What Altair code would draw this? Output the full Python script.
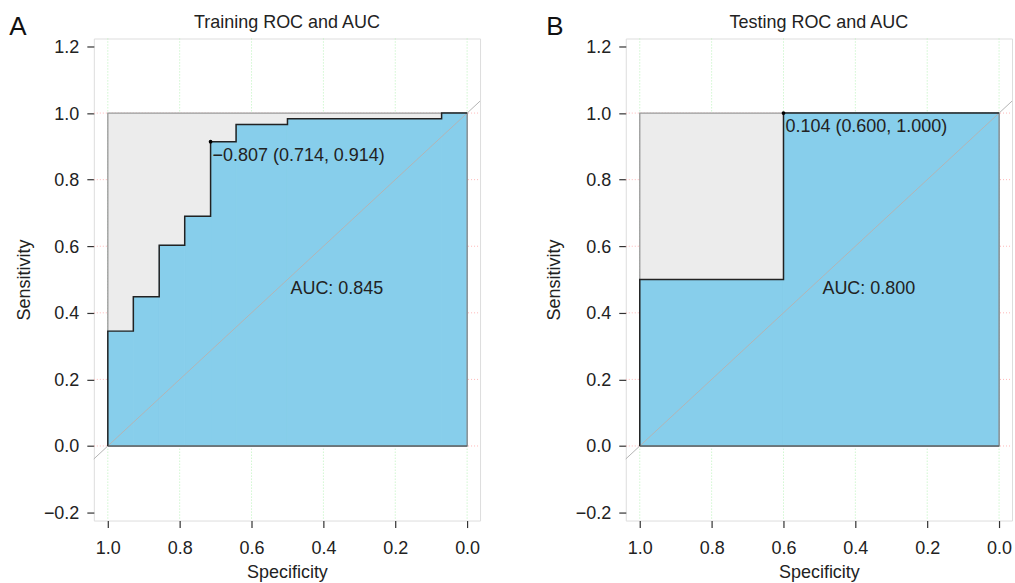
import altair as alt
import pandas as pd

# ---- data ----
train_spec = [1.000, 1.000, 0.929, 0.929, 0.857, 0.857, 0.786, 0.786, 0.714, 0.714,
              0.643, 0.643, 0.500, 0.500, 0.071, 0.071, 0.000]
train_sens = [0.000, 0.345, 0.345, 0.448, 0.448, 0.603, 0.603, 0.690, 0.690, 0.914,
              0.914, 0.966, 0.966, 0.983, 0.983, 1.000, 1.000]
test_spec = [1.000, 1.000, 0.600, 0.600, 0.000]
test_sens = [0.000, 0.500, 0.500, 1.000, 1.000]

train_best = {"spec": 0.714, "sens": 0.914, "label": "\u22120.807 (0.714, 0.914)"}
test_best = {"spec": 0.600, "sens": 1.000, "label": "0.104 (0.600, 1.000)"}
train_auc = "AUC: 0.845"
test_auc = "AUC: 0.800"
titles = ["Training ROC and AUC", "Testing ROC and AUC"]
letters = ["A", "B"]

x_ticks = [0.0, 0.2, 0.4, 0.6, 0.8, 1.0]
y_ticks = [-0.2, 0.0, 0.2, 0.4, 0.6, 0.8, 1.0, 1.2]
hgrid_vals = [0.0, 0.2, 0.4, 0.6, 0.8, 1.0]

W, H = 387, 483
FONT = "Liberation Sans"
TXT = "#222222"
FS = 18
BLUE = "#87ceeb"


def panel(spec, sens, best, auc, title, letter, letter_x, ytitle_x):
    curve = pd.DataFrame({"spec": spec, "sens": sens, "i": list(range(len(spec)))})
    # horizontal segments of the curve -> filled columns under the curve
    segs = [(spec[k], spec[k + 1], sens[k]) for k in range(len(spec) - 1)
            if spec[k] != spec[k + 1]]
    under = pd.DataFrame({"spec": [s[0] for s in segs], "spec2": [s[1] for s in segs],
                          "sens": [0.0] * len(segs), "sens2": [s[2] for s in segs]})

    xs = alt.Scale(domain=[-0.036, 1.039], reverse=True, nice=False, zero=False)
    ys = alt.Scale(domain=[-0.224, 1.224], nice=False, zero=False)
    xax = alt.Axis(values=x_ticks, format=".1f", title="Specificity", grid=False,
                   domain=False, tickSize=7, tickWidth=1.2, tickColor="#333",
                   labelPadding=12, labelFontSize=FS, labelFont=FONT, labelColor=TXT,
                   titleFont=FONT, titleFontSize=FS, titleFontWeight="normal",
                   titleColor=TXT, titleY=57, titleBaseline="alphabetic")
    yax = alt.Axis(values=y_ticks, format=".1f", title="Sensitivity", grid=False,
                   domain=False, tickSize=7, tickWidth=1.2, tickColor="#333",
                   labelPadding=8, labelFontSize=FS, labelFont=FONT, labelColor=TXT,
                   labelOffset=1,
                   titleFont=FONT, titleFontSize=FS, titleFontWeight="normal",
                   titleColor=TXT, titleX=ytitle_x, titleY=H / 2,
                   titleBaseline="alphabetic", titleAngle=270, titleAlign="center")

    base_x = alt.X("spec:Q", scale=xs, axis=xax)
    base_y = alt.Y("sens:Q", scale=ys, axis=yax)

    vgrid = alt.Chart(pd.DataFrame({"spec": x_ticks})).mark_rule(
        color="#b9f2b9", strokeDash=[1, 2], strokeWidth=1
    ).encode(x=base_x, y=alt.value(0), y2=alt.value(H))

    hgrid = alt.Chart(pd.DataFrame({"sens": hgrid_vals})).mark_rule(
        color="#ffb8b8", strokeDash=[1, 2], strokeWidth=1
    ).encode(y=base_y, x=alt.value(0), x2=alt.value(W))

    square = alt.Chart(pd.DataFrame({"spec": [1.0], "spec2": [0.0],
                                     "sens": [0.0], "sens2": [1.0]})).mark_rect(
        fill="#ececec", stroke="#999999", strokeWidth=1.3
    ).encode(x=base_x, x2="spec2:Q", y=base_y, y2="sens2:Q")

    area = alt.Chart(under).mark_rect(
        fill=BLUE, stroke=BLUE, strokeWidth=0.8, opacity=1
    ).encode(x=base_x, x2="spec2:Q", y=base_y, y2="sens2:Q")

    right_edge = alt.Chart(pd.DataFrame({"spec": [0.0], "sens": [0.0], "sens2": [1.0]})).mark_rule(
        color="#8a8a8a", strokeWidth=1.3
    ).encode(x=base_x, y=base_y, y2="sens2:Q")

    bottom = alt.Chart(pd.DataFrame({"spec": [1.0], "spec2": [0.0], "sens": [0.0]})).mark_rule(
        color="#5f5f5f", strokeWidth=1.3
    ).encode(x=base_x, x2="spec2:Q", y=base_y)

    diag = alt.Chart(pd.DataFrame({"spec": [1.2], "spec2": [-0.2],
                                   "sens": [-0.2], "sens2": [1.2]})).mark_rule(
        color="#b4b4b4", strokeWidth=1, clip=True
    ).encode(x=base_x, x2="spec2:Q", y=base_y, y2="sens2:Q")

    line = alt.Chart(curve).mark_line(
        color="#222222", strokeWidth=1.5
    ).encode(x=base_x, y=base_y, order=alt.Order("i:Q"))

    bdf = pd.DataFrame([best])
    pt = alt.Chart(bdf).mark_circle(color="#000000", size=14, opacity=1).encode(
        x=base_x, y=base_y)
    lab = alt.Chart(bdf).mark_text(
        align="left", baseline="alphabetic", dx=2, dy=19, font=FONT,
        fontSize=FS, color=TXT
    ).encode(x=base_x, y=base_y, text="label:N")

    adf = pd.DataFrame({"spec": [0.5], "sens": [0.5], "label": [auc]})
    auc_t = alt.Chart(adf).mark_text(
        align="left", baseline="alphabetic", dx=3, dy=15, font=FONT,
        fontSize=FS, color=TXT
    ).encode(x=base_x, y=base_y, text="label:N")

    ttl = alt.Chart(pd.DataFrame({"t": [title]})).mark_text(
        align="center", baseline="alphabetic", font=FONT, fontSize=FS, color=TXT
    ).encode(x=alt.value(W / 2), y=alt.value(-10.5), text="t:N")

    let = alt.Chart(pd.DataFrame({"t": [letter]})).mark_text(
        align="center", baseline="alphabetic", font=FONT, fontSize=26, color="#111"
    ).encode(x=alt.value(letter_x), y=alt.value(-3.7), text="t:N")

    return alt.layer(vgrid, hgrid, square, area, right_edge, bottom, diag, line, pt,
                     lab, auc_t, ttl, let).properties(width=W, height=H)


left = panel(train_spec, train_sens, train_best, train_auc, titles[0], letters[0],
             -76, -64)
right = panel(test_spec, test_sens, test_best, test_auc, titles[1], letters[1],
              -71, -66)

chart = alt.hconcat(left, right, spacing=64).properties(
    padding={"left": 8, "top": 12, "right": 2, "bottom": 2}
).configure_view(stroke="#333333", strokeWidth=1.3).configure(
    background="white")

chart.save("out.html", embed_options={"renderer": "svg", "actions": False})
